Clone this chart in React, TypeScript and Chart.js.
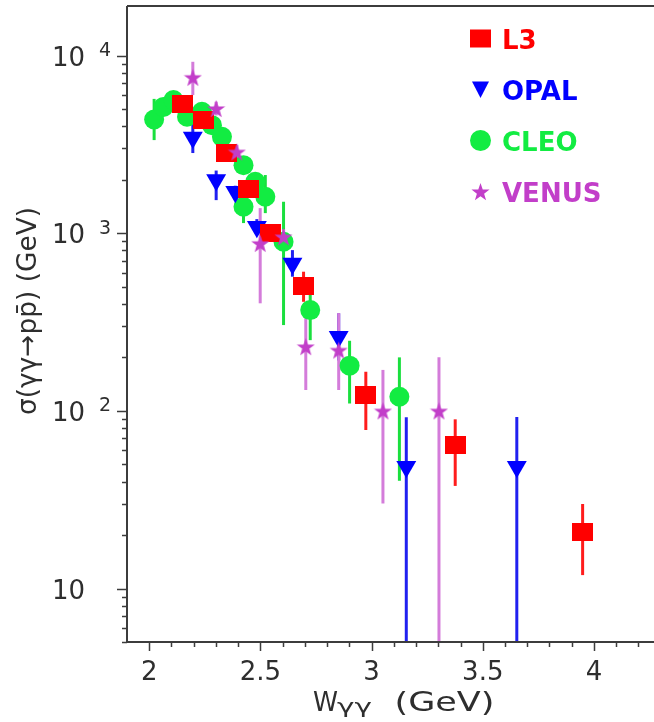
import React, { useEffect, useRef } from "react";
import { Chart, registerables } from "chart.js";

Chart.register(...registerables);

// ---------- data (W in GeV, sigma) ----------
const L3_W = [2.15, 2.244, 2.346, 2.446, 2.547, 2.694, 2.974, 3.376, 3.949];
const L3_SIGMA = [5310, 4335, 2830, 1770, 1005, 506, 123, 64.3, 20.9];
const L3_HI = [5700, 4650, 3050, 1880, 1070, 607, 166, 89.6, 29.9];
const L3_LO = [4950, 4040, 2620, 1665, 945, 411, 78, 37.8, 11.9];

const OPAL_W = [2.196, 2.301, 2.387, 2.484, 2.644, 2.852, 3.156, 3.653];
const OPAL_SIGMA = [3459, 1990, 1710, 1086, 676, 261, 48.4, 48.4];
const OPAL_HI = [4230, 2252, 1850, 1200, 803, 354, 91.9, 92.4];
const OPAL_LO = [2826, 1535, 1580, 980, 569, 192, 1, 1];

const CLEO_W = [2.022, 2.064, 2.109, 2.17, 2.237, 2.282, 2.327, 2.424, 2.477, 2.522, 2.424, 2.604, 2.724, 2.901, 3.125];
const CLEO_SIGMA = [4365, 5140, 5610, 4520, 4820, 4055, 3485, 2415, 1945, 1603, 1409, 895, 369, 179.6, 120];
const CLEO_HI = [5700, 5600, 6100, 4900, 5200, 4400, 3800, 2650, 2150, 2125, 1740, 1503, 479, 248, 200];
const CLEO_LO = [3342, 4700, 5150, 4150, 4450, 3720, 3190, 2200, 1760, 1297, 1140, 304, 250, 110, 40.4];

const VENUS_W = [2.196, 2.301, 2.394, 2.499, 2.604, 2.704, 2.852, 3.051, 3.303];
const VENUS_SIGMA = [7540, 5035, 2870, 877, 955, 230, 220, 100, 100];
const VENUS_HI = [9220, 5500, 3150, 1384, 1050, 355, 355, 170, 200];
const VENUS_LO = [5990, 4600, 2600, 403, 860, 131, 131, 30.1, 1];

const X_TICK_VALUES = [2, 2.5, 3, 3.5, 4];
const X_TICK_LABELS = ["2", "2.5", "3", "3.5", "4"];
const Y_DECADES = [1, 2, 3, 4];
const LEGEND_LABELS = ["L3", "OPAL", "CLEO", "VENUS"];

const X_MIN = 1.9;
const X_MAX = 4.27;
const Y_MIN = 5;
const Y_MAX = 19000;

// ---------- styles ----------
const FONT = '"DejaVu Sans", sans-serif';
const AXIS = "#3c3c3c";
const TEXT = "#2e2e2e";
const RED = "#ff0000";
const BLUE = "#0000ff";
const GREEN = "#12ec42";
const MAGENTA = "#c23ec9";

function makeRect(w: number, h: number, color: string) {
  const c = document.createElement("canvas");
  c.width = w;
  c.height = h;
  const g = c.getContext("2d")!;
  g.fillStyle = color;
  g.fillRect(0, 0, w, h);
  return c;
}

function starPath(g: CanvasRenderingContext2D, cx: number, cy: number, R: number, r: number) {
  g.beginPath();
  for (let i = 0; i < 10; i++) {
    const ang = -Math.PI / 2 + (i * Math.PI) / 5;
    const rad = i % 2 === 0 ? R : r;
    const px = cx + rad * Math.cos(ang);
    const py = cy + rad * Math.sin(ang);
    if (i === 0) g.moveTo(px, py);
    else g.lineTo(px, py);
  }
  g.closePath();
}

function makeStar(size: number, color: string) {
  const c = document.createElement("canvas");
  c.width = size;
  c.height = size;
  const g = c.getContext("2d")!;
  g.fillStyle = color;
  starPath(g, size / 2, size / 2 + size * 0.05, size / 2, size * 0.2);
  g.fill();
  return c;
}

function fitText(
  ctx: CanvasRenderingContext2D,
  text: string,
  x: number,
  y: number,
  width: number,
  align: "left" | "center"
) {
  const w = ctx.measureText(text).width;
  const s = width / w;
  ctx.save();
  ctx.translate(x, y);
  ctx.scale(s, 1);
  ctx.textAlign = align;
  ctx.fillText(text, 0, 0);
  ctx.restore();
}

const SERIES_BARS = [
  { w: CLEO_W, hi: CLEO_HI, lo: CLEO_LO, color: "#1adf3e" },
  { w: OPAL_W, hi: OPAL_HI, lo: OPAL_LO, color: "#2020f0" },
  { w: L3_W, hi: L3_HI, lo: L3_LO, color: "#ff1c1c" },
  { w: VENUS_W, hi: VENUS_HI, lo: VENUS_LO, color: "#d47cda" },
];

const decorPlugin = {
  id: "decor",
  beforeDatasetsDraw(chart: any) {
    const { ctx, chartArea: a } = chart;
    const xs = chart.scales.x;
    const ys = chart.scales.y;
    ctx.save();
    ctx.beginPath();
    ctx.rect(a.left, a.top, a.right - a.left, a.bottom - a.top);
    ctx.clip();
    ctx.lineWidth = 3;
    ctx.lineCap = "butt";
    for (const s of SERIES_BARS) {
      ctx.strokeStyle = s.color;
      for (let i = 0; i < s.w.length; i++) {
        const px = xs.getPixelForValue(s.w[i]);
        ctx.beginPath();
        ctx.moveTo(px, ys.getPixelForValue(s.hi[i]));
        ctx.lineTo(px, ys.getPixelForValue(s.lo[i]));
        ctx.stroke();
      }
    }
    ctx.restore();
  },
  afterDraw(chart: any) {
    const { ctx, chartArea: a } = chart;
    const xs = chart.scales.x;
    const ys = chart.scales.y;
    ctx.save();
    // frame (top, left, bottom)
    ctx.strokeStyle = AXIS;
    ctx.lineWidth = 2;
    ctx.beginPath();
    ctx.moveTo(a.left, a.top);
    ctx.lineTo(a.right, a.top);
    ctx.moveTo(a.left, a.top);
    ctx.lineTo(a.left, a.bottom);
    ctx.lineTo(a.right, a.bottom);
    ctx.stroke();

    // tick marks
    ctx.lineWidth = 1.5;
    ctx.beginPath();
    for (let d = 0; d <= 4; d++) {
      for (let m = 1; m <= 9; m++) {
        const v = m * Math.pow(10, d);
        if (v < Y_MIN || v > Y_MAX) continue;
        const py = Math.round(ys.getPixelForValue(v)) + 0.5;
        const len = m === 1 ? 10 : 5;
        ctx.moveTo(a.left - len, py);
        ctx.lineTo(a.left, py);
      }
    }
    for (let k = 20; k <= 42; k++) {
      const v = k / 10;
      const px = Math.round(xs.getPixelForValue(v)) + 0.5;
      const len = k % 5 === 0 ? 9 : 5;
      ctx.moveTo(px, a.bottom);
      ctx.lineTo(px, a.bottom + len);
    }
    ctx.stroke();

    // tick labels
    ctx.fillStyle = TEXT;
    ctx.textBaseline = "alphabetic";
    ctx.font = `26px ${FONT}`;
    ctx.textAlign = "center";
    X_TICK_VALUES.forEach((v, i) => {
      ctx.fillText(X_TICK_LABELS[i], xs.getPixelForValue(v), a.bottom + 38);
    });
    Y_DECADES.forEach((n) => {
      const py = ys.getPixelForValue(Math.pow(10, n));
      ctx.textAlign = "left";
      ctx.font = `26px ${FONT}`;
      ctx.fillText("10", a.left - 75, py + 10);
      if (n > 1) {
        ctx.font = `19px ${FONT}`;
        ctx.fillText(String(n), a.left - 28, py + 0.5);
      }
    });

    // y title
    ctx.save();
    ctx.translate(36, 311);
    ctx.rotate(-Math.PI / 2);
    ctx.font = `27px ${FONT}`;
    fitText(ctx, "σ(γγ→pp\u0304) (GeV)", 0, 0, 208, "center");
    ctx.restore();

    // x title
    ctx.font = `27px ${FONT}`;
    fitText(ctx, "W", 313, 711, 25, "left");
    ctx.font = `20px ${FONT}`;
    fitText(ctx, "γγ", 337, 713, 35, "left");
    ctx.font = `27px ${FONT}`;
    fitText(ctx, "(GeV)", 394.5, 711, 100, "left");

    // legend
    const rows = [38.5, 89.5, 140.5, 191.5];
    const colors = [RED, BLUE, GREEN, MAGENTA];
    const mx = 480.5;
    ctx.fillStyle = RED;
    ctx.fillRect(mx - 10.5, rows[0] - 9, 21, 18);
    ctx.fillStyle = BLUE;
    ctx.beginPath();
    ctx.moveTo(mx - 8.5, rows[1] - 8);
    ctx.lineTo(mx + 8.5, rows[1] - 8);
    ctx.lineTo(mx, rows[1] + 8.5);
    ctx.closePath();
    ctx.fill();
    ctx.fillStyle = GREEN;
    ctx.beginPath();
    ctx.arc(mx, rows[2], 10.5, 0, Math.PI * 2);
    ctx.fill();
    ctx.fillStyle = MAGENTA;
    starPath(ctx, mx, rows[3] + 1, 9.5, 3.8);
    ctx.fill();

    ctx.font = `bold 26px ${FONT}`;
    ctx.textAlign = "left";
    LEGEND_LABELS.forEach((lab, i) => {
      ctx.fillStyle = colors[i];
      ctx.fillText(lab, 502, rows[i] + 10);
    });
    ctx.restore();
  },
};

export default function App() {
  const ref = useRef<HTMLCanvasElement | null>(null);

  useEffect(() => {
    if (!ref.current) return;
    const squareImg = makeRect(21, 18, RED);
    const starImg = makeStar(19, MAGENTA);

    const toPts = (w: number[], s: number[]) => w.map((x, i) => ({ x, y: s[i] }));

    const chart = new Chart(ref.current, {
      type: "scatter",
      data: {
        datasets: [
          {
            label: "VENUS",
            data: toPts(VENUS_W, VENUS_SIGMA),
            pointStyle: starImg as any,
            pointRadius: 10,
            backgroundColor: MAGENTA,
            borderWidth: 0,
            order: 0,
          },
          {
            label: "L3",
            data: toPts(L3_W, L3_SIGMA),
            pointStyle: squareImg as any,
            pointRadius: 11,
            backgroundColor: RED,
            borderWidth: 0,
            order: 1,
          },
          {
            label: "OPAL",
            data: toPts(OPAL_W, OPAL_SIGMA),
            pointStyle: "triangle",
            rotation: 180,
            pointRadius: 11.5,
            backgroundColor: BLUE,
            borderWidth: 0,
            order: 2,
          },
          {
            label: "CLEO",
            data: toPts(CLEO_W, CLEO_SIGMA),
            pointStyle: "circle",
            pointRadius: 10,
            backgroundColor: GREEN,
            borderWidth: 0,
            order: 3,
          },
        ],
      },
      options: {
        responsive: false,
        animation: false,
        events: [],
        layout: { autoPadding: false, padding: { top: 6, left: 0, right: 0, bottom: 0 } },
        plugins: {
          legend: { display: false },
          tooltip: { enabled: false },
        },
        scales: {
          x: {
            type: "linear",
            min: X_MIN,
            max: X_MAX,
            grid: { display: false },
            border: { display: false },
            ticks: { display: false },
            afterFit: (s: any) => {
              s.height = 80;
            },
          },
          y: {
            type: "logarithmic",
            min: Y_MIN,
            max: Y_MAX,
            grid: { display: false },
            border: { display: false },
            ticks: { display: false },
            afterFit: (s: any) => {
              s.width = 127;
            },
          },
        },
      },
      plugins: [decorPlugin],
    });
    return () => chart.destroy();
  }, []);

  return (
    <div style={{ position: "absolute", left: 0, top: 0, width: 654, height: 722, background: "#fff" }}>
      <canvas ref={ref} width={654} height={722} style={{ display: "block" }} />
    </div>
  );
}
